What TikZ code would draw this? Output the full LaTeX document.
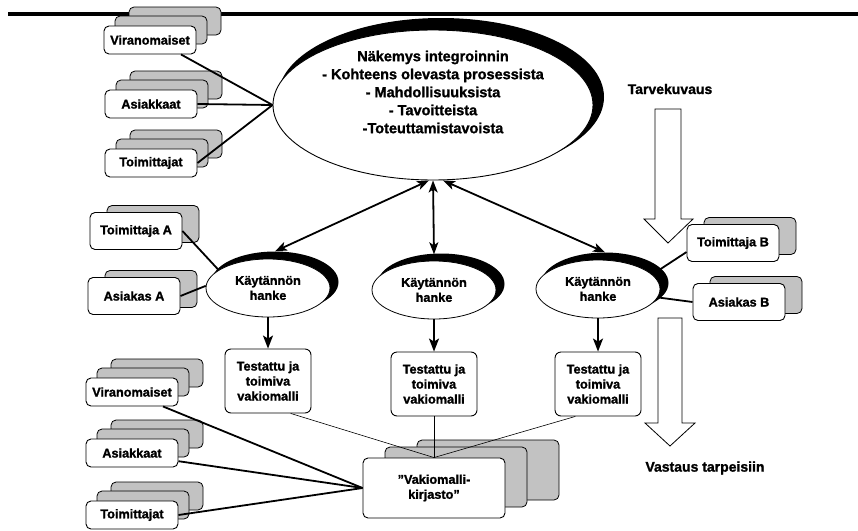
\documentclass[tikz,border=0pt]{standalone}
\usepackage{fontspec}
\setmainfont{Liberation Sans}[BoldFeatures={FakeBold=1.3}]
\usetikzlibrary{arrows.meta,shapes.geometric,calc}
\tikzset{
  lbl/.style={font=\fontsize{12.7}{15}\selectfont\bfseries, align=center},
  card/.style={lbl, draw, line width=0.9pt, rounded corners=5pt, fill=white,
    minimum width=92pt, minimum height=28pt, inner sep=0pt},
  tallcard/.style={card, minimum height=37pt},
  shadowcard/.style={draw, line width=0.8pt, rounded corners=5pt, fill=black!24,
    minimum width=92pt, minimum height=28pt, inner sep=0pt},
  tallshadow/.style={shadowcard, minimum height=37pt},
  bubble/.style={lbl, ellipse, draw, line width=0.8pt, fill=white, inner sep=0pt,
    minimum width=124pt, minimum height=58pt},
  bubshadow/.style={ellipse, fill=black, inner sep=0pt,
    minimum width=127pt, minimum height=61pt},
  testbox/.style={lbl, draw, line width=0.9pt, rounded corners=6pt, fill=white,
    minimum width=86pt, minimum height=64pt, inner sep=0pt},
  bigtext/.style={font=\fontsize{14.5}{18}\selectfont\bfseries, align=center},
  conn/.style={line width=1.8pt},
  thin/.style={line width=0.6pt},
  dbl/.style={line width=1.8pt,
    {Stealth[length=12pt,width=9pt,inset=3pt]}-{Stealth[length=12pt,width=9pt,inset=3pt]}},
  down/.style={line width=1.8pt, -{Stealth[length=13pt,width=10pt,inset=3pt]}},
  hollow/.style={draw, line width=0.8pt, fill=white, line join=miter},
}
\newcommand{\mkstack}[3]{%
  \node[shadowcard] (#1c) at ($(#2)+(25,-19)$) {};
  \node[shadowcard] (#1b) at ($(#2)+(11,-10)$) {};
  \node[card] (#1) at (#2) {#3};
}
\newcommand{\mkpair}[3]{%
  \node[tallshadow] (#1b) at ($(#2)+(17,-7)$) {};
  \node[tallcard] (#1) at (#2) {#3};
}
\begin{document}
\begin{tikzpicture}[x=1pt,y=-1pt]
\useasboundingbox (0,0) rectangle (858,530);
% top rule
\coordinate (ruleL) at (8,14);
\coordinate (ruleR) at (858,14);
\draw[line width=4.5pt] (ruleL) -- (ruleR);

% top-left stacks
\mkstack{vA}{150,40}{Viranomaiset}
\mkstack{aA}{151,104}{Asiakkaat}
\mkstack{tA}{151,163}{Toimittajat}

% big ellipse
\node[ellipse, fill=black, inner sep=0pt, minimum width=326pt, minimum height=158pt] (bigS) at (441,97) {};
\node[ellipse, draw, line width=0.9pt, fill=white, inner sep=0pt, minimum width=320pt, minimum height=150pt] (big) at (433,105) {};
\node[bigtext] (bigtxt) at (433,92) {Näkemys integroinnin\\- Kohteens olevasta prosessista\\- Mahdollisuuksista\\- Tavoitteista\\-Toteuttamistavoista};

\draw[conn] (vA.-25) -- (big.west);
\draw[conn] (aA.east) -- (big.west);
\draw[conn] (tA.east) -- (big.west);

% small ellipses
\node[bubshadow] (lS) at (275,282) {};
\node[bubble] (l) at (268,288) {Käytännön\\hanke};
\node[bubshadow] (mS) at (441,284) {};
\node[bubble] (m) at (434,290) {Käytännön\\hanke};
\node[bubshadow] (rS) at (605,283) {};
\node[bubble] (r) at (598,289) {Käytännön\\hanke};

% double arrows
\draw[dbl] ([xshift=-4pt]big.south) -- (lS.north);
\draw[dbl] (big.south) -- ([yshift=-1pt]mS.north -| m.north);
\draw[dbl] ([xshift=10pt]big.south) -- (rS.north);

% side cards
\mkpair{tpA}{136,231}{Toimittaja A}
\mkpair{asA}{134,296}{Asiakas A}
\mkpair{tpB}{733,243}{Toimittaja B}
\mkpair{asB}{739,302}{Asiakas B}
\draw[conn] (tpA.east) -- (l.160);
\draw[conn] (asA.east) -- (l.178);
\draw[conn] (tpB.191) -- (r.15);
\draw[conn] (asB.west) -- (r.-8);

% tested models
\node[testbox] (t1) at (268,381) {Testattu ja\\toimiva\\vakiomalli};
\node[testbox] (t2) at (434,384) {Testattu ja\\toimiva\\vakiomalli};
\node[testbox] (t3) at (598,384) {Testattu ja\\toimiva\\vakiomalli};
\draw[down] (l.south) -- (t1.north);
\draw[down] (m.south) -- (t2.north);
\draw[down] (r.south) -- (t3.north);

% library stack
\node[shadowcard, minimum width=142pt, minimum height=60pt] (kirc) at (488,470) {};
\node[shadowcard, minimum width=142pt, minimum height=60pt] (kirb) at (456,477) {};
\node[card, minimum width=142pt, minimum height=60pt] (kir) at (434,488) {"Vakiomalli-\\kirjasto"};
\draw[thin] (t1.-55) -- (kir.north);
\draw[thin] (t2.south) -- (kir.north);
\draw[thin] (t3.-125) -- (kir.north);

% bottom-left stacks
\mkstack{vB}{132,392}{Viranomaiset}
\mkstack{aB}{132,453}{Asiakkaat}
\mkstack{tB}{132,515}{Toimittajat}
\draw[conn] (vB.-25) -- (kir.west);
\draw[conn] (aB.-10) -- (kir.west);
\draw[conn] (tB.east) -- (kir.west);

% hollow arrows and their labels
\node[bigtext, font=\fontsize{14}{17}\selectfont\bfseries] (tarve) at (670,89) {Tarvekuvaus};
\draw[hollow] (655,109) -- (681,109) -- (681,219) -- (693,219) -- (668,243) -- (644,219) -- (655,219) -- cycle;
\draw[hollow] (658,318) -- (682,318) -- (682,423) -- (695,423) -- (670,446) -- (645,423) -- (658,423) -- cycle;
\node[bigtext, font=\fontsize{14}{17}\selectfont\bfseries] (vastaus) at (705,468) {Vastaus tarpeisiin};
\end{tikzpicture}
\end{document}
